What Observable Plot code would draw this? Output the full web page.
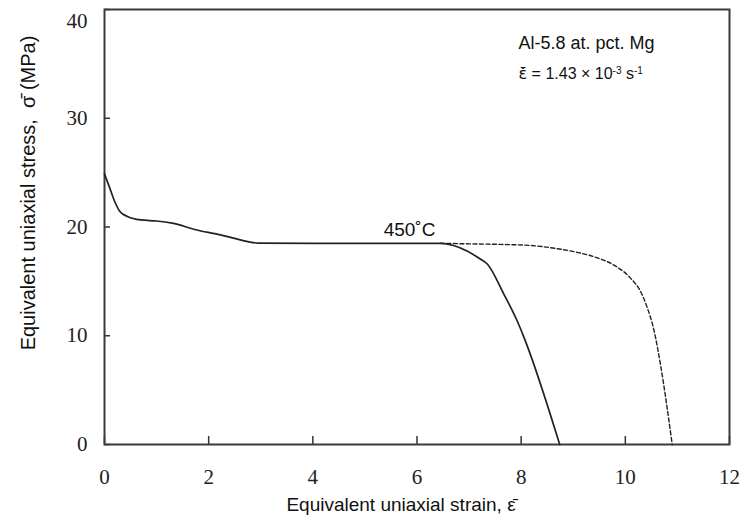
<!DOCTYPE html>
<html><head><meta charset="utf-8">
<script src="https://cdn.jsdelivr.net/npm/d3@7"></script>
<script src="https://cdn.jsdelivr.net/npm/@observablehq/plot@0.6"></script>
<style>body{margin:0;background:#fff}</style>
</head><body><div id="chart"></div>
<script>
// Solid curve
const solidStrain = [0, 0.1, 0.2, 0.3, 0.45, 0.7, 1.0, 1.3, 1.75, 2.2, 2.5, 2.75, 2.95, 4.0, 5.5, 6.45, 6.7, 6.96, 7.2, 7.35, 7.66, 7.92, 8.05, 8.74];
const solidStress = [24.9, 23.6, 22.3, 21.4, 20.95, 20.65, 20.55, 20.35, 19.75, 19.3, 18.95, 18.65, 18.52, 18.5, 18.5, 18.5, 18.3, 17.8, 17.1, 16.6, 13.9, 11.4, 9.9, 0];
// Dashed curve
const dashedStrain = [6.45, 7.0, 7.6, 8.18, 8.7, 9.14, 9.5, 9.78, 10.1, 10.3, 10.42, 10.55, 10.68, 10.9];
const dashedStress = [18.5, 18.45, 18.4, 18.3, 18.0, 17.6, 17.1, 16.5, 15.3, 14.0, 12.6, 10.5, 7.2, 0];
const xTicks = [0, 2, 4, 6, 8, 10, 12];
const yTicks = [0, 10, 20, 30];
const yTopTick = [40];
const xTitle = "Equivalent uniaxial strain, ε\u0304";
const yTitle = "Equivalent uniaxial stress,  σ\u0304 (MPa)";
const alloyLabel = "Al-5.8 at. pct. Mg";
const rateParts = [
  {t: "ε\u0304\u0307", font: "'DejaVu Sans', sans-serif", sup: false},
  {t: " = 1.43 × 10", sup: false},
  {t: "-3", sup: true},
  {t: " s", sup: false},
  {t: "-1", sup: true}
];
const rateLabel = rateParts.map(p => p.t).join("");
const tempLabel = "450˚C";

const solid = solidStrain.map((x, i) => ({x, y: solidStress[i]}));
const dashed = dashedStrain.map((x, i) => ({x, y: dashedStress[i]}));

const sans = "'Liberation Sans', Arial, sans-serif";
const serif = "'Liberation Serif', 'DejaVu Serif', serif";

const chart = Plot.plot({
  width: 749, height: 528,
  marginLeft: 104, marginRight: 20, marginTop: 9, marginBottom: 84,
  style: {fontFamily: sans, background: "#fff", color: "#222"},
  x: {domain: [0, 12]},
  y: {domain: [0, 40]},
  marks: [
    Plot.axisX({ticks: xTicks, tickSize: -8, tickFormat: () => "", label: null, stroke: "#333", strokeWidth: 1.5}),
    Plot.axisX({ticks: xTicks, tickSize: 0, tickPadding: 25, label: null, fontSize: 21, fontFamily: serif, fill: "#222"}),
    Plot.axisY({ticks: yTicks.concat(yTopTick), tickSize: -6, tickFormat: () => "", label: null, stroke: "#333", strokeWidth: 1.5}),
    Plot.axisY({ticks: yTicks, tickSize: 0, tickPadding: 17, label: null, fontSize: 21, fontFamily: serif, fill: "#222"}),
    Plot.axisY({ticks: yTopTick, tickSize: 0, tickPadding: 17, dy: 12, label: null, fontSize: 21, fontFamily: serif, fill: "#222"}),
    Plot.frame({stroke: "#3a3a3a", strokeWidth: 2}),
    Plot.line(dashed, {x: "x", y: "y", curve: "monotone-x", stroke: "#222", strokeWidth: 1.4, strokeDasharray: "4,2.5"}),
    Plot.line(solid, {x: "x", y: "y", curve: "monotone-x", stroke: "#222", strokeWidth: 1.7}),
    Plot.text([tempLabel], {text: d => d, frameAnchor: "top-left", dx: 305, dy: 213, fontSize: 19, textAnchor: "middle", fill: "#111"}),
    Plot.text([alloyLabel], {text: d => d, frameAnchor: "top-right", dx: -211, dy: 27, fontSize: 18, textAnchor: "start", fill: "#111"}),
    Plot.text([rateLabel], {text: d => d, frameAnchor: "top-right", dx: -211, dy: 58, fontSize: 16, textAnchor: "start", fill: "#111", className: "rate-label"}),
    Plot.text([xTitle], {text: d => d, frameAnchor: "bottom", dx: -16, dy: 66, fontSize: 19, textAnchor: "middle", fill: "#111"}),
    Plot.text([yTitle], {text: d => d, frameAnchor: "left", rotate: -90, dx: -76, dy: -34, fontSize: 20, textAnchor: "middle", fill: "#111"})
  ]
});
document.getElementById("chart").appendChild(chart);

// rich text for the strain-rate label (superscripts)
const rt = d3.select(chart).select(".rate-label text");
rt.text(null);
rateParts.forEach(p => {
  const ts = rt.append("tspan").text(p.t);
  if (p.font) ts.attr("font-family", p.font);
  if (p.sup) ts.attr("font-size", "10px").attr("baseline-shift", "super");
});
</script>
</body></html>
